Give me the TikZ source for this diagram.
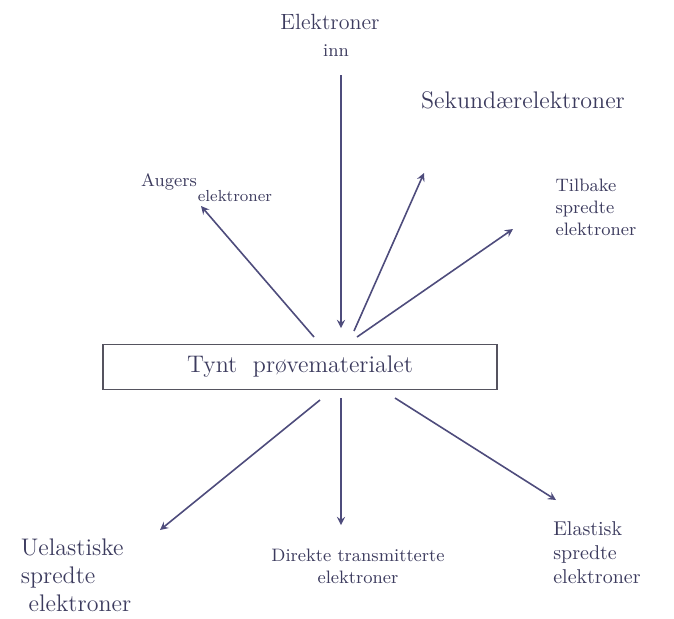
\documentclass[tikz,border=0pt]{standalone}
\usepackage{xcolor}
\usepackage{tikz}

\definecolor{blekk}{HTML}{3C3B5E}
\definecolor{pilfarge}{HTML}{4E4C7C}
\definecolor{ramme}{HTML}{55535F}

\tikzset{
  tekst/.style={text=blekk, inner sep=1pt, align=left},
  pil/.style={->, draw=pilfarge, line width=0.8pt, >=stealth},
  prove/.style={draw=ramme, line width=0.8pt, minimum width=197pt, minimum height=22.5pt, text=blekk}
}

\begin{document}
\begin{tikzpicture}[x=0.5pt, y=-0.5pt]
\useasboundingbox (0,0) rectangle (674,618);

\node[tekst, font=\fontsize{11}{13}\selectfont] (elek) at (330,22) {Elektroner};
\node[tekst, font=\small] (inn) at (336,51) {inn};
\node[tekst, font=\large] (sek) at (523,100) {Sekundærelektroner};
\node[tekst, font=\small] (auger) at (169,182) {Augers};
\node[tekst, font=\footnotesize] (augerel) at (235,196) {elektroner};
\node[tekst, font=\small] (tilbake) at (596,207) {Tilbake\\ spredte\\ elektroner};

\node[prove, font=\large] (prove) at (300,367) {Tynt \ prøvematerialet};

\node[tekst, font=\large] (uel) at (76,575) {Uelastiske\\ spredte\\ \ elektroner};
\node[tekst, font=\small, align=center] (dir) at (358,566) {Direkte transmitterte\\ elektroner};
\node[tekst] (ela) at (597,553) {Elastisk\\ spredte\\ elektroner};

\coordinate (inn1) at (341,75);
\coordinate (inn2) at (341,328);
\coordinate (sek1) at (354,331);
\coordinate (sek2) at (424,173);
\coordinate (til1) at (357,337);
\coordinate (til2) at (513,229);
\coordinate (aug1) at (314,337);
\coordinate (aug2) at (201,206);
\coordinate (uel1) at (320,400);
\coordinate (uel2) at (160,530);
\coordinate (dir1) at (341,398);
\coordinate (dir2) at (341,525);
\coordinate (ela1) at (395,398);
\coordinate (ela2) at (556,500);

\draw[pil] (inn1) -- (inn2);
\draw[pil] (sek1) -- (sek2);
\draw[pil] (til1) -- (til2);
\draw[pil] (aug1) -- (aug2);
\draw[pil] (uel1) -- (uel2);
\draw[pil] (dir1) -- (dir2);
\draw[pil] (ela1) -- (ela2);
\end{tikzpicture}
\end{document}
